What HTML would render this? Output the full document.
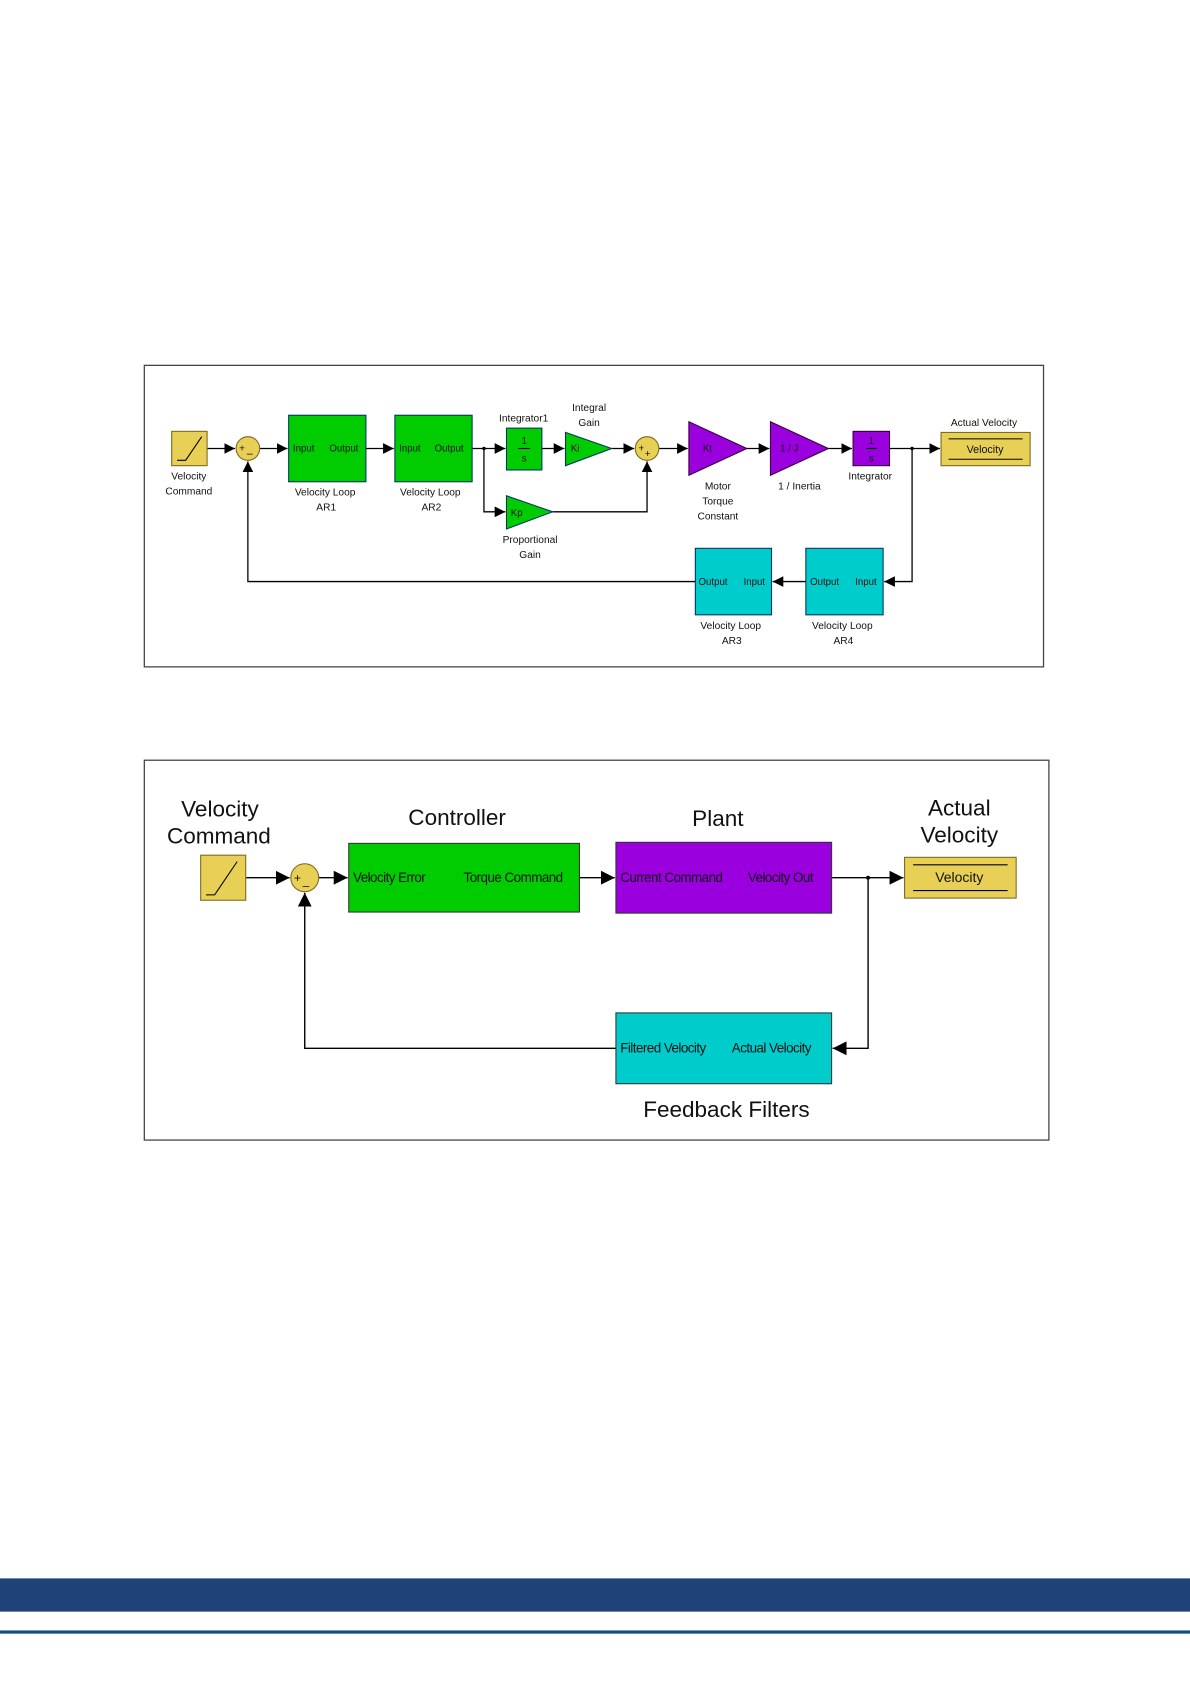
<!DOCTYPE html>
<html><head><meta charset="utf-8"><style>
html,body{margin:0;padding:0;background:#fff;}
svg{display:block;}
text{font-family:"Liberation Sans",sans-serif;fill:#111;}
</style></head><body>
<svg width="1190" height="1683" viewBox="0 0 1109 1568.5" preserveAspectRatio="none" xmlns="http://www.w3.org/2000/svg">
<defs>
<marker id="a" viewBox="0 0 10 10" refX="10" refY="5" markerWidth="10" markerHeight="10" markerUnits="userSpaceOnUse" orient="auto"><path d="M0,0 L10,5 L0,10 z" fill="#000"/></marker>
<marker id="b" viewBox="0 0 10 10" refX="10" refY="5" markerWidth="13" markerHeight="13" markerUnits="userSpaceOnUse" orient="auto"><path d="M0,0 L10,5 L0,10 z" fill="#000"/></marker>
</defs>
<!-- Diagram 1 -->
<rect x="134.5" y="340.5" width="838" height="281" fill="#fff" stroke="#444" stroke-width="1.2"/>
<g stroke="#000" stroke-width="1.2" fill="none">
<line x1="193" y1="418" x2="219" y2="418" marker-end="url(#a)"/>
<line x1="242" y1="418" x2="268" y2="418" marker-end="url(#a)"/>
<line x1="341" y1="418" x2="367" y2="418" marker-end="url(#a)"/>
<line x1="440" y1="418" x2="471" y2="418" marker-end="url(#a)"/>
<polyline points="451,418 451,477 471,477" marker-end="url(#a)"/>
<line x1="505" y1="418" x2="526" y2="418" marker-end="url(#a)"/>
<line x1="570" y1="418" x2="591" y2="418" marker-end="url(#a)"/>
<polyline points="515,477 603,477 603,430" marker-end="url(#a)"/>
<line x1="614" y1="418" x2="641" y2="418" marker-end="url(#a)"/>
<line x1="696" y1="418" x2="717" y2="418" marker-end="url(#a)"/>
<line x1="772" y1="418" x2="794" y2="418" marker-end="url(#a)"/>
<line x1="829" y1="418" x2="876" y2="418" marker-end="url(#a)"/>
<polyline points="850,418 850,542 824,542" marker-end="url(#a)"/>
<line x1="751" y1="542" x2="720" y2="542" marker-end="url(#a)"/>
<polyline points="648,542 231,542 231,430" marker-end="url(#a)"/>
</g>
<circle cx="451" cy="418" r="1.6"/><circle cx="850" cy="418" r="1.6"/>
<rect x="160" y="402" width="33" height="32" fill="#e8cf55" stroke="#7a6a20"/>
<polyline points="165,429 173,429 188,407" fill="none" stroke="#000"/>
<circle cx="231" cy="418" r="11" fill="#e8cf55" stroke="#7a6a20"/>
<text x="223" y="421" font-size="9">+</text><text x="230" y="426" font-size="10">–</text>
<rect x="269" y="387" width="72" height="62" fill="#00cc00" stroke="#036"/>
<text x="273" y="421" font-size="9">Input</text><text x="307" y="421" font-size="9">Output</text>
<rect x="368" y="387" width="72" height="62" fill="#00cc00" stroke="#036"/>
<text x="372" y="421" font-size="9">Input</text><text x="405" y="421" font-size="9">Output</text>
<rect x="472" y="399" width="33" height="39" fill="#00cc00" stroke="#036"/>
<text x="488.5" y="414" font-size="9" text-anchor="middle">1</text><line x1="483" y1="418" x2="494" y2="418" stroke="#000"/><text x="488.5" y="430" font-size="9" text-anchor="middle">s</text>
<polygon points="527,403 570,418 527,434" fill="#00cc00" stroke="#036"/><text x="532" y="421" font-size="9">Ki</text>
<polygon points="472,462 515,477 472,493" fill="#00cc00" stroke="#036"/><text x="476" y="481" font-size="9">Kp</text>
<circle cx="603" cy="418" r="11" fill="#e8cf55" stroke="#7a6a20"/>
<text x="595" y="421" font-size="9">+</text><text x="601" y="426" font-size="9">+</text>
<polygon points="642,393 696,418 642,443" fill="#9900dd" stroke="#303"/><text x="655" y="421" font-size="9">Kt</text>
<polygon points="718,393 772,418 718,443" fill="#9900dd" stroke="#303"/><text x="727" y="421" font-size="9">1 / J</text>
<rect x="795" y="402" width="34" height="32" fill="#9900dd" stroke="#303"/>
<text x="812" y="414" font-size="9" text-anchor="middle">1</text><line x1="807" y1="418" x2="817" y2="418" stroke="#000"/><text x="812" y="430" font-size="9" text-anchor="middle">s</text>
<rect x="877" y="403" width="83" height="31" fill="#e8cf55" stroke="#7a6a20"/>
<line x1="884" y1="409" x2="953" y2="409" stroke="#000"/><line x1="884" y1="428" x2="953" y2="428" stroke="#000"/>
<text x="918" y="422" font-size="10" text-anchor="middle">Velocity</text>
<rect x="648" y="511" width="71" height="62" fill="#00cccc" stroke="#036"/>
<text x="651" y="545" font-size="9">Output</text><text x="693" y="545" font-size="9">Input</text>
<rect x="751" y="511" width="72" height="62" fill="#00cccc" stroke="#036"/>
<text x="755" y="545" font-size="9">Output</text><text x="797" y="545" font-size="9">Input</text>
<g font-size="9.5" text-anchor="middle">
<text x="176" y="447">Velocity</text><text x="176" y="461">Command</text>
<text x="303" y="462">Velocity Loop</text><text x="304" y="476">AR1</text>
<text x="401" y="462">Velocity Loop</text><text x="402" y="476">AR2</text>
<text x="488" y="393">Integrator1</text>
<text x="549" y="383">Integral</text><text x="549" y="397">Gain</text>
<text x="494" y="506">Proportional</text><text x="494" y="520">Gain</text>
<text x="669" y="456">Motor</text><text x="669" y="470">Torque</text><text x="669" y="484">Constant</text>
<text x="745" y="456">1 / Inertia</text>
<text x="811" y="447">Integrator</text>
<text x="917" y="397">Actual Velocity</text>
<text x="681" y="586">Velocity Loop</text><text x="682" y="600">AR3</text>
<text x="785" y="586">Velocity Loop</text><text x="786" y="600">AR4</text>
</g>
<!-- Diagram 2 -->
<rect x="134.5" y="708.5" width="843" height="354" fill="#fff" stroke="#444" stroke-width="1.2"/>
<g stroke="#000" stroke-width="1.3" fill="none">
<line x1="229" y1="818" x2="270" y2="818" marker-end="url(#b)"/>
<line x1="297" y1="818" x2="324" y2="818" marker-end="url(#b)"/>
<line x1="540" y1="818" x2="573" y2="818" marker-end="url(#b)"/>
<line x1="775" y1="818" x2="842" y2="818" marker-end="url(#b)"/>
<polyline points="809,818 809,977 776,977" marker-end="url(#b)"/>
<polyline points="574,977 284,977 284,832" marker-end="url(#b)"/>
</g>
<circle cx="809" cy="818" r="1.8"/>
<rect x="187" y="797" width="42" height="42" fill="#e8cf55" stroke="#7a6a20"/>
<polyline points="192,834 200,834 221,803" fill="none" stroke="#000"/>
<circle cx="284" cy="818" r="13" fill="#e8cf55" stroke="#7a6a20"/>
<text x="274" y="822" font-size="11">+</text><text x="282" y="829" font-size="11">–</text>
<rect x="325" y="786" width="215" height="64" fill="#00cc00" stroke="#333"/>
<text x="329" y="822" font-size="12.5" letter-spacing="-0.5">Velocity Error</text>
<text x="432" y="822" font-size="12.5" letter-spacing="-0.5">Torque Command</text>
<rect x="574" y="785" width="201" height="66" fill="#9900dd" stroke="#333"/>
<text x="578" y="822" font-size="12.5" letter-spacing="-0.5">Current Command</text>
<text x="697" y="822" font-size="12.5" letter-spacing="-0.5">Velocity Out</text>
<rect x="843" y="799" width="104" height="38" fill="#e8cf55" stroke="#7a6a20"/>
<line x1="851" y1="806" x2="939" y2="806" stroke="#000"/><line x1="851" y1="830" x2="939" y2="830" stroke="#000"/>
<text x="894" y="822" font-size="13" text-anchor="middle">Velocity</text>
<rect x="574" y="944" width="201" height="66" fill="#00cccc" stroke="#333"/>
<text x="578" y="981" font-size="12.5" letter-spacing="-0.5">Filtered Velocity</text>
<text x="682" y="981" font-size="12.5" letter-spacing="-0.5">Actual Velocity</text>
<g font-size="21" text-anchor="middle" fill="#222">
<text x="205" y="761">Velocity</text><text x="204" y="786">Command</text>
<text x="426" y="769">Controller</text>
<text x="669" y="770">Plant</text>
<text x="894" y="760">Actual</text><text x="894" y="785">Velocity</text>
<text x="677" y="1041">Feedback Filters</text>
</g>
<!-- footer -->
<rect x="0" y="1471" width="1109" height="31" fill="#1f4279"/>
<rect x="0" y="1519.5" width="1109" height="3" fill="#0e4f86"/>
</svg>
</body></html>
